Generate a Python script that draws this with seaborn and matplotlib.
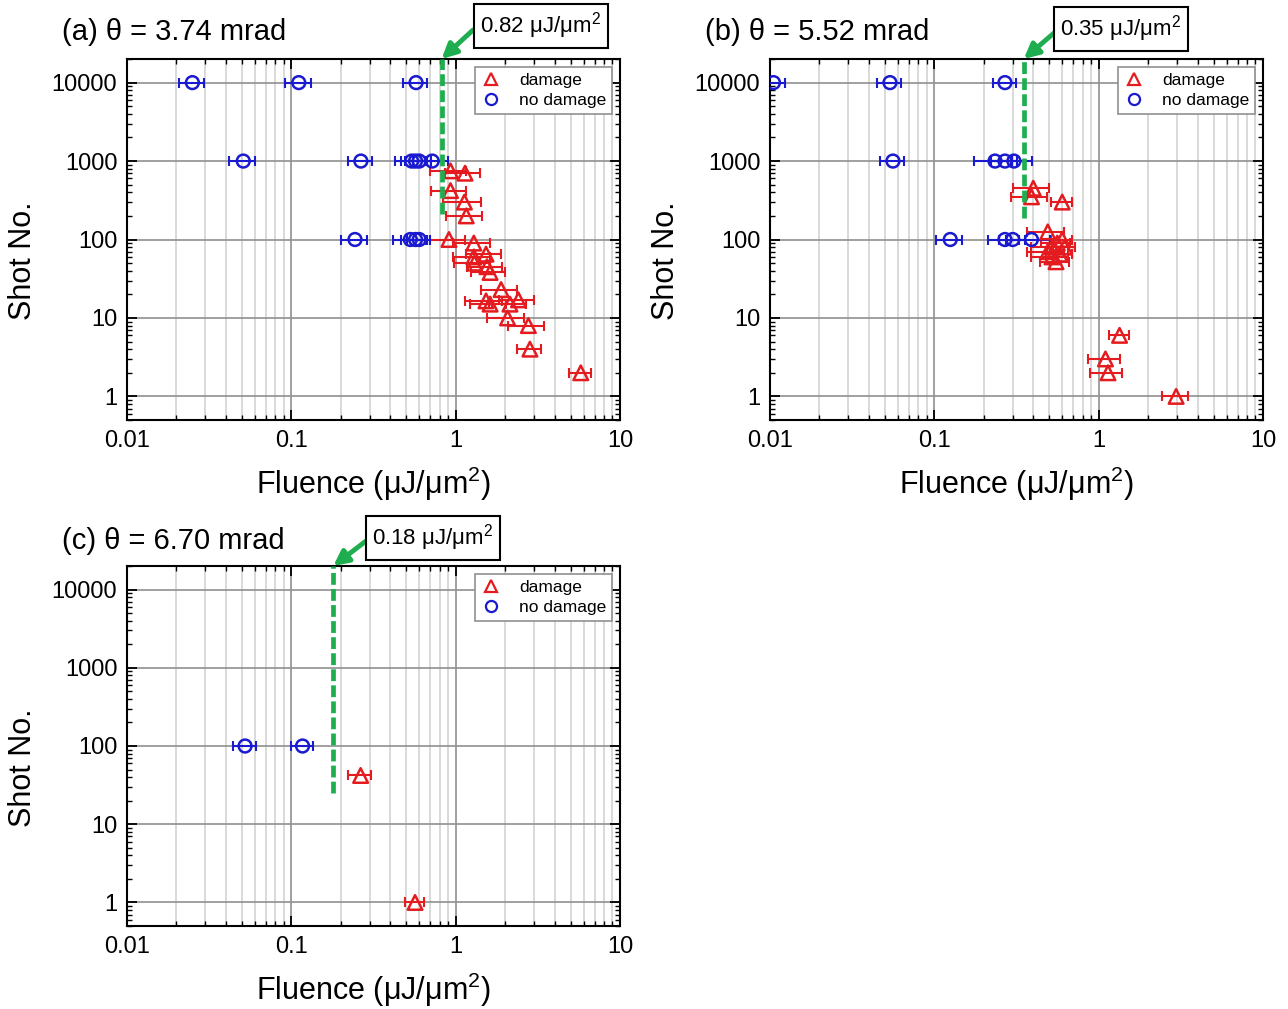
import numpy as np
import pandas as pd
import matplotlib
matplotlib.use("Agg")
import matplotlib.pyplot as plt
from matplotlib.lines import Line2D
from matplotlib.ticker import LogLocator, NullFormatter, FixedLocator, FixedFormatter
import seaborn as sns

# ---------------- data ----------------
titles = ["(a) θ = 3.74 mrad", "(b) θ = 5.52 mrad", "(c) θ = 6.70 mrad"]
thresholds = [0.82, 0.35, 0.18]
threshold_labels = ["0.82 μJ/μm$^2$", "0.35 μJ/μm$^2$", "0.18 μJ/μm$^2$"]
threshold_line_bottom = [210, 190, 25]

# panel (a)
a_dmg_x = [0.93, 1.14, 0.93, 1.13, 1.16, 0.91, 1.29, 1.29, 1.53, 1.30, 1.55, 1.62,
           1.89, 1.53, 2.41, 2.14, 1.62, 2.07, 2.77, 2.83, 5.77]
a_dmg_y = [750, 700, 420, 300, 200, 100, 90, 60, 65, 50, 45, 38,
           23, 16.5, 17, 15, 15, 10, 8, 4, 2]
a_dmg_rel = [0.25, 0.24, 0.24, 0.26, 0.25, 0.26, 0.25, 0.25, 0.24, 0.25, 0.24, 0.24,
             0.25, 0.25, 0.24, 0.25, 0.25, 0.25, 0.25, 0.16, 0.15]
a_nod_x = [0.025, 0.111, 0.574, 0.051, 0.265, 0.54, 0.57, 0.60, 0.72, 0.244, 0.53, 0.57, 0.60]
a_nod_y = [10000, 10000, 10000, 1000, 1000, 1000, 1000, 1000, 1000, 100, 100, 100, 100]
a_nod_rel = [0.17, 0.18, 0.17, 0.18, 0.17, 0.21, 0.18, 0.18, 0.24, 0.18, 0.22, 0.18, 0.16]

# panel (b)
b_dmg_x = [0.40, 0.39, 0.60, 0.49, 0.60, 0.56, 0.52, 0.62, 0.49, 0.58, 0.52, 0.55,
           1.34, 1.10, 1.14, 2.96]
b_dmg_y = [450, 350, 300, 125, 100, 90, 80, 80, 70, 65, 60, 52,
           6, 3, 2, 1]
b_dmg_rel = [0.25, 0.25, 0.15, 0.25, 0.15, 0.20, 0.25, 0.15, 0.25, 0.18, 0.25, 0.20,
             0.14, 0.22, 0.22, 0.18]
b_nod_x = [0.0105, 0.0537, 0.269, 0.056, 0.234, 0.269, 0.305, 0.125, 0.269, 0.30, 0.39]
b_nod_y = [10000, 10000, 10000, 1000, 1000, 1000, 1000, 100, 100, 100, 100]
b_nod_rel = [0.17, 0.17, 0.16, 0.17, 0.26, 0.18, 0.28, 0.18, 0.21, 0.18, 0.30]

# panel (c)
c_dmg_x = [0.264, 0.566]
c_dmg_y = [42, 1]
c_dmg_rel = [0.16, 0.13]
c_nod_x = [0.0523, 0.117]
c_nod_y = [100, 100]
c_nod_rel = [0.16, 0.15]

panels = [
    (a_dmg_x, a_dmg_y, a_dmg_rel, a_nod_x, a_nod_y, a_nod_rel),
    (b_dmg_x, b_dmg_y, b_dmg_rel, b_nod_x, b_nod_y, b_nod_rel),
    (c_dmg_x, c_dmg_y, c_dmg_rel, c_nod_x, c_nod_y, c_nod_rel),
]

xticks = [0.01, 0.1, 1, 10]
xticklabels = ["0.01", "0.1", "1", "10"]
yticks = [1, 10, 100, 1000, 10000]
yticklabels = ["1", "10", "100", "1000", "10000"]

# ---------------- style ----------------
sns.set_style("ticks")
plt.rcParams['font.family'] = ['Liberation Sans', 'DejaVu Sans']
plt.rcParams['mathtext.fontset'] = 'custom'
plt.rcParams['mathtext.rm'] = 'Liberation Sans'
plt.rcParams['mathtext.it'] = 'Liberation Sans:italic'
plt.rcParams['text.color'] = 'black'
plt.rcParams['axes.labelcolor'] = 'black'
plt.rcParams['xtick.color'] = 'black'
plt.rcParams['ytick.color'] = 'black'

RED = '#e41c20'
BLUE = '#1a1ad0'
GREEN = '#1fae4f'
W, H = 1288, 1009

fig = plt.figure(figsize=(W / 100, H / 100), dpi=100)
fig.patch.set_facecolor('white')

ax_boxes = [(127, 59, 620, 420), (770, 59, 1263, 420), (127, 566, 620, 926)]
title_pos = [(62, 32), (705, 32), (62, 541)]
box_pos = [(541, 26), (1121, 29), (433, 538)]
arrow_start = [(473, 30), (1054, 33), (366, 541)]

for i, (dx, dy, drel, nx, ny, nrel) in enumerate(panels):
    l, t, r, b = ax_boxes[i]
    ax = fig.add_axes([l / W, 1 - b / H, (r - l) / W, (b - t) / H])
    ax.set_xscale('log')
    ax.set_yscale('log')
    ax.set_xlim(0.01, 10)
    ax.set_ylim(0.5, 2e4)

    # grid
    ax.grid(True, which='major', axis='both', color='#909090', lw=1.2, zorder=0)
    ax.grid(True, which='minor', axis='x', color='#cfcfcf', lw=1.1, zorder=0)
    ax.set_axisbelow(True)

    # error bars
    dx_a = np.array(dx); nx_a = np.array(nx)
    ax.errorbar(dx, dy, xerr=dx_a * np.array(drel), fmt='none', ecolor=RED,
                elinewidth=1.5, capsize=3.5, capthick=1.5, zorder=3)
    ax.errorbar(nx, ny, xerr=nx_a * np.array(nrel), fmt='none', ecolor=BLUE,
                elinewidth=1.5, capsize=3.5, capthick=1.5, zorder=3)

    df_d = pd.DataFrame({'fluence': dx, 'shots': dy})
    df_n = pd.DataFrame({'fluence': nx, 'shots': ny})
    sns.scatterplot(data=df_d, x='fluence', y='shots', ax=ax, marker='^', s=110,
                    facecolor='none', edgecolor=RED, linewidth=1.8, zorder=4)
    sns.scatterplot(data=df_n, x='fluence', y='shots', ax=ax, marker='o', s=85,
                    facecolor='none', edgecolor=BLUE, linewidth=1.8, zorder=4)

    # threshold line
    th = thresholds[i]
    ax.plot([th, th], [threshold_line_bottom[i], 2e4], color=GREEN, lw=3.4,
            ls=(0, (2.5, 0.9)), zorder=5, clip_on=False)

    # ticks
    ax.xaxis.set_major_locator(FixedLocator(xticks))
    ax.xaxis.set_major_formatter(FixedFormatter(xticklabels))
    ax.yaxis.set_major_locator(FixedLocator(yticks))
    ax.yaxis.set_major_formatter(FixedFormatter(yticklabels))
    ax.xaxis.set_minor_locator(LogLocator(base=10, subs=np.arange(2, 10), numticks=20))
    ax.yaxis.set_minor_locator(LogLocator(base=10, subs=np.arange(2, 10), numticks=20))
    ax.xaxis.set_minor_formatter(NullFormatter())
    ax.yaxis.set_minor_formatter(NullFormatter())
    ax.tick_params(which='both', direction='in', top=True, right=True, color='black',
                   labelcolor='black')
    ax.tick_params(which='major', length=7, width=1.3, labelsize=17, pad=7)
    ax.tick_params(which='minor', length=3.5, width=1.0)
    for sp in ax.spines.values():
        sp.set_color('black')
        sp.set_linewidth(1.5)

    ax.set_xlabel("Fluence (μJ/μm$^2$)", fontsize=22, color='black')
    ax.set_ylabel("Shot No.", fontsize=22, color='black')
    ax.xaxis.set_label_coords(0.5, -0.125)
    ax.yaxis.set_label_coords(-0.18, 0.44)

    # legend
    handles = [Line2D([], [], ls='none', marker='^', ms=9, mfc='none', mec=RED, mew=1.6),
               Line2D([], [], ls='none', marker='o', ms=8, mfc='none', mec=BLUE, mew=1.6)]
    leg = ax.legend(handles, ["damage", "no damage"], loc='upper right', fontsize=12.5,
                    frameon=True, fancybox=False, framealpha=1, edgecolor='#909090',
                    borderaxespad=0.45, handlelength=1.2, handletextpad=1.0,
                    borderpad=0.35, labelspacing=0.3)
    leg.get_frame().set_linewidth(1.2)

    # title
    tx, ty = title_pos[i]
    fig.text(tx / W, 1 - ty / H, titles[i], fontsize=21, ha='left', va='center')

    # threshold annotation box
    bx, by = box_pos[i]
    fig.text(bx / W, 1 - by / H, threshold_labels[i], fontsize=16, ha='center', va='center',
             bbox=dict(boxstyle='square,pad=0.3', fc='white', ec='black', lw=1.5))
    sx, sy = arrow_start[i]
    ax.annotate('', xy=(th, 2e4), xycoords='data',
                xytext=(sx, H - sy), textcoords='figure pixels',
                arrowprops=dict(arrowstyle='-|>', color=GREEN, lw=3.5,
                                mutation_scale=22, shrinkA=0, shrinkB=0),
                annotation_clip=False)

fig.savefig("out.png", dpi=100, facecolor='white')
